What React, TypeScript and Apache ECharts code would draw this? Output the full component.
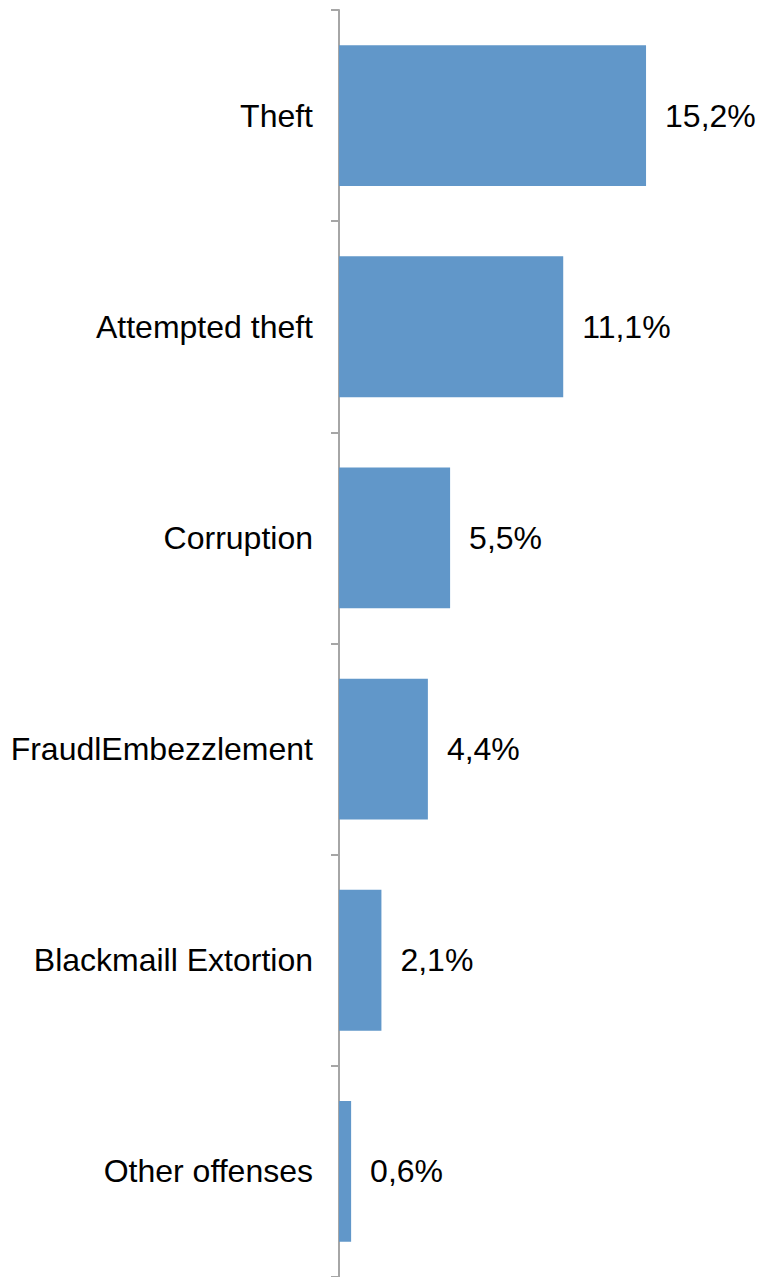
import React, { useEffect, useRef } from "react";
import * as echarts from "echarts";

const categories = [
  "Theft",
  "Attempted theft",
  "Corruption",
  "FraudlEmbezzlement",
  "Blackmaill Extortion",
  "Other offenses",
];
const values = [15.2, 11.1, 5.5, 4.4, 2.1, 0.6];

const FONT = '"Liberation Sans", Arial, Helvetica, sans-serif';

export default function App() {
  const ref = useRef<HTMLDivElement>(null);
  useEffect(() => {
    if (!ref.current) return;
    const chart = echarts.init(ref.current, null, { renderer: "svg" });
    chart.setOption({
      animation: false,
      backgroundColor: "#ffffff",
      grid: { left: 339, top: 10, width: 404, height: 1271, containLabel: false },
      xAxis: {
        type: "value",
        show: false,
        min: 0,
        max: 20,
      },
      yAxis: {
        type: "category",
        data: categories,
        inverse: true,
        axisLine: { show: true, lineStyle: { color: "#a6a6a6", width: 2 } },
        axisTick: { show: true, length: 8, lineStyle: { color: "#a6a6a6", width: 2 } },
        axisLabel: {
          margin: 26,
          color: "#000000",
          fontSize: 32,
          fontFamily: FONT,
          padding: [4, 0, 0, 0],
        },
        splitLine: { show: false },
      },
      series: [
        {
          type: "bar",
          data: values,
          barCategoryGap: "33.3%",
          itemStyle: { color: "#6197c9" },
          label: {
            show: true,
            position: "right",
            distance: 19,
            color: "#000000",
            fontSize: 32,
            fontFamily: FONT,
            padding: [4, 0, 0, 0],
            formatter: (p: any) => p.value.toFixed(1).replace(".", ",") + "%",
          },
        },
      ],
    });
    return () => chart.dispose();
  }, []);
  return (
    <div
      ref={ref}
      style={{ position: "fixed", left: 0, top: 0, width: 757, height: 1277 }}
    />
  );
}
